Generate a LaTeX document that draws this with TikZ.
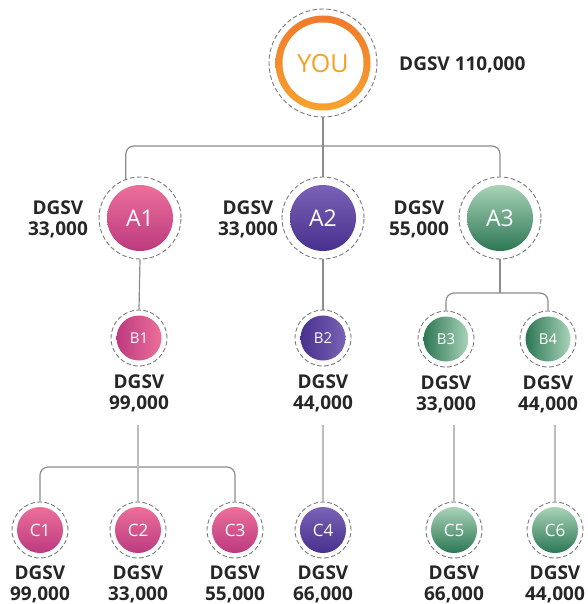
\documentclass[tikz,border=0pt]{standalone}
\usepackage{fontspec}
\setmainfont{Open Sans}
\newcommand\labfont{\bfseries}
\newcommand\nodefont{\normalfont}
\definecolor{pinkT}{HTML}{EC6F9A}
\definecolor{pinkB}{HTML}{BC3A7F}
\definecolor{purT}{HTML}{7A62B6}
\definecolor{purB}{HTML}{48308E}
\definecolor{grnT}{HTML}{A9D3B8}
\definecolor{grnB}{HTML}{2C7754}
\definecolor{oraT}{HTML}{F07A2C}
\definecolor{oraB}{HTML}{F8A22E}
\definecolor{youtxt}{HTML}{F7A020}
\definecolor{dashgray}{HTML}{7A7A7A}
\definecolor{lineA}{HTML}{8C8C8C}
\definecolor{lineB}{HTML}{BDBDBD}
\definecolor{txt}{HTML}{262626}
\begin{document}
\begin{tikzpicture}[x=1pt,y=-1pt,
  dring/.style={circle, draw=dashgray, dash pattern=on 4.5pt off 2.5pt, line width=0.9pt, inner sep=0pt, minimum size=#1},
  bigA/.style={circle, inner sep=0pt, minimum size=66pt, text=white, font=\nodefont\fontsize{23}{23}\selectfont},
  midB/.style={circle, inner sep=0pt, minimum size=45pt, text=white, font=\nodefont\fontsize{15}{15}\selectfont},
  smC/.style={circle, inner sep=0pt, minimum size=46pt, text=white, font=\nodefont\fontsize{17}{17}\selectfont},
  pinkV/.style={top color=pinkT, bottom color=pinkB},
  purV/.style={top color=purT, bottom color=purB},
  grnV/.style={top color=grnT, bottom color=grnB},
  pinkH/.style={left color=pinkB, right color=pinkT},
  purH/.style={left color=purB, right color=purT},
  grnH/.style={left color=grnB, right color=grnT},
  lab/.style={align=center, text=txt, inner sep=0pt, font=\labfont\fontsize{19}{21}\selectfont},
  conn/.style={draw=lineA, line width=1.2pt},
  connl/.style={draw=lineB, line width=1.3pt}
]
\useasboundingbox (0,0) rectangle (587,604);

% YOU
\node[circle, inner sep=0pt, minimum size=95pt, top color=oraT, bottom color=oraB] (YOUr) at (323,63) {};
\node[circle, fill=white, inner sep=0pt, minimum size=81pt] (YOU) at (323,63) {};
\node[text=youtxt, font=\nodefont\fontsize{25}{25}\selectfont] (YOUt) at (323,64) {YOU};
\node[dring=108pt] (YOUo) at (323,63) {};
\node[lab, anchor=west] (YOUl) at (399,65) {DGSV 110,000};

% A level
\node[dring=82pt] (A1o) at (140,218) {};
\node[bigA, pinkV] (A1) at (140,218) {A1};
\node[dring=82pt] (A2o) at (323,218) {};
\node[bigA, purV] (A2) at (323,218) {A2};
\node[dring=82pt] (A3o) at (500,218) {};
\node[bigA, grnV] (A3) at (500,218) {A3};
\node[lab] (A1l) at (58,219) {DGSV\\33,000};
\node[lab] (A2l) at (248,219) {DGSV\\33,000};
\node[lab] (A3l) at (419,219) {DGSV\\55,000};

% B level
\node[dring=56pt] (B1o) at (139,338) {};
\node[midB, pinkH] (B1) at (139,338) {B1};
\node[dring=56pt] (B2o) at (323,338) {};
\node[midB, purH] (B2) at (323,338) {B2};
\node[dring=56pt] (B3o) at (446,339) {};
\node[midB, grnH] (B3) at (446,339) {B3};
\node[dring=56pt] (B4o) at (548,339) {};
\node[midB, grnH] (B4) at (548,339) {B4};
\node[lab] (B1l) at (139,393) {DGSV\\99,000};
\node[lab] (B2l) at (323,393) {DGSV\\44,000};
\node[lab] (B3l) at (446,394) {DGSV\\33,000};
\node[lab] (B4l) at (548,394) {DGSV\\44,000};

% C level
\node[dring=56pt] (C1o) at (40,530) {};
\node[smC, pinkV] (C1) at (40,530) {C1};
\node[dring=56pt] (C2o) at (138,530) {};
\node[smC, pinkV] (C2) at (138,530) {C2};
\node[dring=56pt] (C3o) at (235,530) {};
\node[smC, pinkV] (C3) at (235,530) {C3};
\node[dring=56pt] (C4o) at (323,530) {};
\node[smC, purV] (C4) at (323,530) {C4};
\node[dring=56pt] (C5o) at (454,530) {};
\node[smC, grnV] (C5) at (454,530) {C5};
\node[dring=56pt] (C6o) at (555,530) {};
\node[smC, grnV] (C6) at (555,530) {C6};
\node[lab] (C1l) at (40,584) {DGSV\\99,000};
\node[lab] (C2l) at (138,584) {DGSV\\33,000};
\node[lab] (C3l) at (235,584) {DGSV\\55,000};
\node[lab] (C4l) at (323,584) {DGSV\\66,000};
\node[lab] (C5l) at (454,584) {DGSV\\66,000};
\node[lab] (C6l) at (555,584) {DGSV\\44,000};

% connectors
\coordinate (j1) at (323,146);
\coordinate (j2) at (498,293);
\coordinate (j3) at (138,467);
\coordinate (jt) at (0,425);
\draw[conn, rounded corners=8pt] (A1o.110) |- (j1) -| (A3o.north);
\draw[conn] (YOUo.south) -- (A2o.north);
\draw[conn] (A1o.south) -- (B1o.north);
\draw[conn] (A2o.south) -- (B2o.north);
\draw[conn] (A3o.south) -- (A3o.south |- j2);
\draw[conn, rounded corners=8pt] (B3o.north) |- (j2) -| (B4o.north);
\draw[conn, rounded corners=8pt] (C1o.north) |- (j3) -| (C3o.north);
\draw[connl] (C2o.north |- jt) -- (C2o.north);
\draw[connl] (C4o.north |- jt) -- (C4o.north);
\draw[connl] (C5o.north |- jt) -- (C5o.north);
\draw[connl] (C6o.north |- jt) -- (C6o.north);
\end{tikzpicture}
\end{document}
